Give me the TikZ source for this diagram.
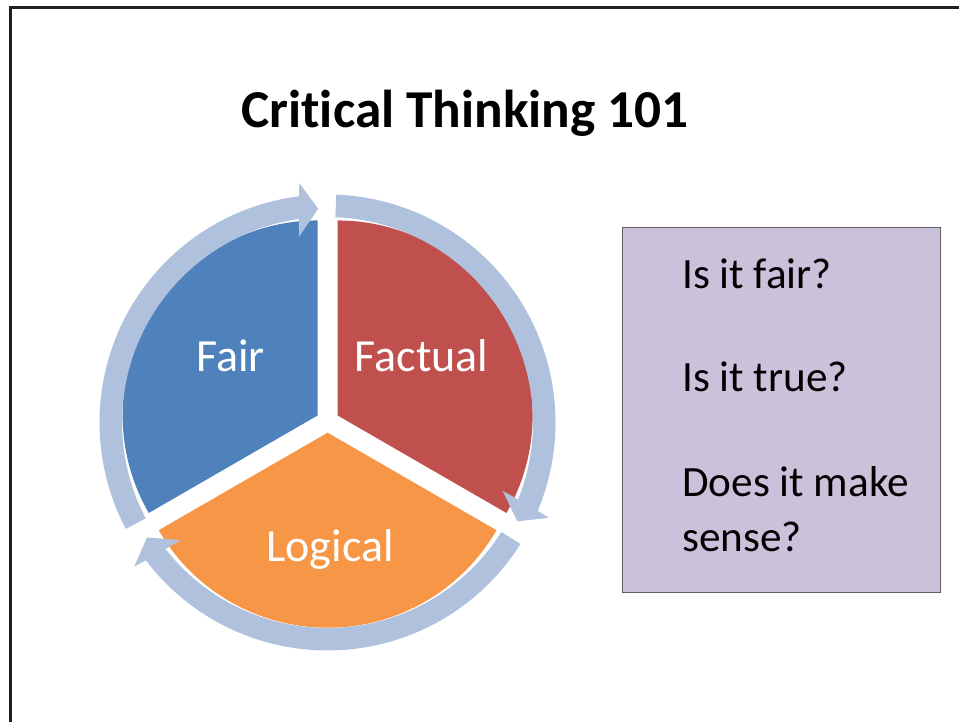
\documentclass[tikz,border=0pt]{standalone}
\usepackage{fontspec}
\setmainfont{Carlito}[RawFeature={-liga;-clig;-calt;-dlig}]
\usetikzlibrary{calc}

\definecolor{fairblue}{HTML}{4F81BD}
\definecolor{factred}{HTML}{C0504D}
\definecolor{logorange}{HTML}{F79646}
\definecolor{ringblue}{HTML}{B0C1DD}
\definecolor{boxlilac}{HTML}{CCC1DA}
\definecolor{boxedge}{HTML}{606060}

% curved cycle arrow around the pie: #1 = start angle, #2 = tip angle
\newcommand\ringarrow[2]{%
  \fill[ringblue] ($(RC)+({#1}:228)$)
    arc[start angle={#1}, end angle={#2+4.7}, radius=228]
    -- ($(RC)+({#2+4.2}:241)$)
    -- ($(RC)+({#2}:214)$)
    -- ($(RC)+({#2+6.2}:188)$)
    -- ($(RC)+({#2+5.5}:205.5)$)
    arc[start angle={#2+5.5}, end angle={#1}, radius=205.5]
    -- cycle;}

\begin{document}
\begin{tikzpicture}[x=1pt, y=1pt,
  piecut/.style={fill=#1, draw=none},
  pielabel/.style={text=white, font=\fontsize{46}{50}\selectfont, anchor=base, inner sep=0pt},
  question/.style={text=black, font=\fontsize{43.2}{51}\selectfont, anchor=base west, inner sep=0pt},
  slideframe/.style={line width=2.7pt, draw=black!88}]

\useasboundingbox (0,0) rectangle (959,721);
\fill[white] (0,0) rectangle (959,721);

% slide frame (runs off the right and bottom)
\draw[slideframe] (10.5,-10) |- (975,713.7);

% title
\node[font=\bfseries\fontsize{53.3}{60}\selectfont, anchor=base, inner sep=0pt] (title) at (465,593) {Critical Thinking 101};

% exploded three-part pie
\coordinate (C) at (327.6,299.8);
\coordinate (RC) at (327.5,298.5);
\fill[piecut=fairblue] ($(C)+(150:11.5)$) -- ++(90:195) arc[start angle=90, end angle=210, radius=195] -- cycle;
\fill[piecut=factred] ($(C)+(30:11.5)$) -- ++(-30:195) arc[start angle=-30, end angle=90, radius=195] -- cycle;
\fill[piecut=logorange] ($(C)+(270:11.5)$) -- ++(210:195) arc[start angle=210, end angle=330, radius=195] -- cycle;

% cycle arrows on the rim
\ringarrow{207.8}{92.5}
\ringarrow{87.8}{-27.5}
\ringarrow{-32.2}{-147.5}

% segment labels
\node[pielabel] (fair) at (230.5,349) {Fair};
\node[pielabel] (factual) at (421.7,349) {Factual};
\node[pielabel] (logical) at (330,159) {Logical};

% question box
\node[draw=boxedge, line width=1pt, fill=boxlilac, minimum width=318pt, minimum height=365pt, anchor=south west, inner sep=0pt] (qbox) at (622,128) {};
\node[question] (q1) at (682,432) {Is it fair?};
\node[question] (q2) at (682,329) {Is it true?};
\node[question] (q3a) at (682,224) {Does it make};
\node[question] (q3b) at (682,169) {sense?};

\end{tikzpicture}
\end{document}
